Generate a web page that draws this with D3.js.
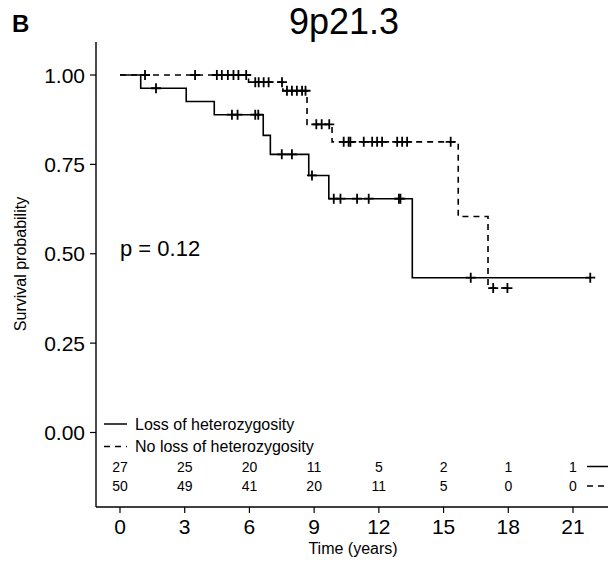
<!DOCTYPE html>
<html>
<head>
<meta charset="utf-8">
<script src="https://cdn.jsdelivr.net/npm/d3@7"></script>
<style>
  body { margin: 0; background: #fff; }
  svg { font-family: 'Liberation Sans', Arial, sans-serif; }
</style>
</head>
<body>
<svg id="chart" width="608" height="562"></svg>
<script>
// Kaplan-Meier curves
const lossSteps = [[0, 1.0], [0.96, 0.963], [3.07, 0.926], [4.37, 0.889], [6.64, 0.831], [6.97, 0.778], [8.75, 0.719], [9.68, 0.654], [13.55, 0.433]];
const lossEnd = 21.8;
const lossCensor = [1.67, 5.19, 5.45, 6.27, 6.41, 7.5, 7.97, 8.9, 9.91, 10.22, 10.99, 11.53, 12.93, 13.0, 16.26, 21.8];

const noLossSteps = [[0, 1.0], [5.96, 0.98], [7.55, 0.956], [8.67, 0.862], [9.83, 0.813], [15.68, 0.604], [17.06, 0.404]];
const noLossEnd = 18.0;
const noLossCensor = [1.16, 3.48, 4.49, 4.72, 5.0, 5.26, 5.49, 5.85, 6.27, 6.43, 6.66, 6.89, 7.51, 7.74, 7.97, 8.2, 8.44, 8.6,
  9.1, 9.35, 9.7, 10.37, 10.6, 10.68, 11.3, 11.69, 11.92, 12.15, 12.85, 13.08, 13.31, 15.33, 17.3, 17.96];

const xTicks = [0, 3, 6, 9, 12, 15, 18, 21];
const yTicks = [0, 0.25, 0.5, 0.75, 1];
const riskLoss = [27, 25, 20, 11, 5, 2, 1, 1];
const riskNoLoss = [50, 49, 41, 20, 11, 5, 0, 0];
const groups = ['Loss of heterozygosity', 'No loss of heterozygosity'];
const pValue = 'p = 0.12';

const svg = d3.select('#chart');
const x = d3.scaleLinear().domain([0, 21]).range([120, 573]);
const y = d3.scaleLinear().domain([0, 1]).range([432.5, 75]);

const axisLeft = 96;
const axisBottom = 507;
const axisTop = 42;

// step value lookup for censor marks
const survAt = (steps, t)=>{
  let s = steps[0][1];
  steps.forEach((d)=>{
    if (d[0] <= t) s = d[1];
  });
  return s;
};

const line = d3.line()
    .x((d)=>x(d[0]))
    .y((d)=>y(d[1]))
    .curve(d3.curveStepAfter);

const series = [
  {steps: lossSteps, end: lossEnd, censor: lossCensor, dash: null},
  {steps: noLossSteps, end: noLossEnd, censor: noLossCensor, dash: '6,5'},
];

// draw dashed first so solid sits on top at the shared start
series.slice().reverse().forEach((sr)=>{
  const pts = sr.steps.concat([[sr.end, sr.steps[sr.steps.length-1][1]]]);
  svg.append('path')
      .attr('d', line(pts))
      .style('fill', 'none')
      .style('stroke', '#000')
      .style('stroke-width', 1.6)
      .style('stroke-dasharray', sr.dash);

  svg.append('g').selectAll('path')
      .data(sr.censor)
      .enter().append('path')
      .attr('transform', (t)=>`translate(${x(t)},${y(survAt(sr.steps, t))})`)
      .attr('d', 'M-5,0H5M0,-5V5')
      .style('stroke', '#000')
      .style('stroke-width', 1.8);
});

// axes
svg.append('line')
    .attr('x1', axisLeft).attr('x2', axisLeft)
    .attr('y1', axisTop).attr('y2', axisBottom)
    .style('stroke', '#000').style('stroke-width', 1.4);
svg.append('line')
    .attr('x1', axisLeft).attr('x2', 608)
    .attr('y1', axisBottom).attr('y2', axisBottom)
    .style('stroke', '#000').style('stroke-width', 1.4);

const yt = svg.append('g').selectAll('g').data(yTicks).enter().append('g')
    .attr('transform', (d)=>`translate(${axisLeft},${y(d)})`);
yt.append('line').attr('x1', -6).attr('x2', 0).style('stroke', '#000').style('stroke-width', 1.2);
yt.append('text')
    .attr('x', -11).attr('dy', '0.36em')
    .attr('text-anchor', 'end')
    .style('font-size', '21px')
    .text((d)=>d3.format('.2f')(d));

const xt = svg.append('g').selectAll('g').data(xTicks).enter().append('g')
    .attr('transform', (d)=>`translate(${x(d)},${axisBottom})`);
xt.append('line').attr('y1', 0).attr('y2', 6).style('stroke', '#000').style('stroke-width', 1.2);
xt.append('text')
    .attr('y', 19).attr('dy', '0.36em')
    .attr('text-anchor', 'middle')
    .style('font-size', '21px')
    .text((d)=>d);

// number at risk rows
[riskLoss, riskNoLoss].forEach((row, ri)=>{
  const ry = ri ? 486 : 466.5;
  svg.append('g').selectAll('text').data(row).enter().append('text')
      .attr('x', (d, i)=>x(xTicks[i]))
      .attr('y', ry).attr('dy', '0.36em')
      .attr('text-anchor', 'middle')
      .style('font-size', '14px')
      .text((d)=>d);
  svg.append('line')
      .attr('x1', 587).attr('x2', 612)
      .attr('y1', ry).attr('y2', ry)
      .style('stroke', '#000').style('stroke-width', 1.5)
      .style('stroke-dasharray', ri ? '6,5' : null);
});

// legend
groups.forEach((g, gi)=>{
  const ly = gi ? 446.5 : 424;
  svg.append('line')
      .attr('x1', 104).attr('x2', 127)
      .attr('y1', ly).attr('y2', ly)
      .style('stroke', '#000').style('stroke-width', 1.5)
      .style('stroke-dasharray', gi ? '6,5' : null);
  svg.append('text')
      .attr('x', 135).attr('y', ly).attr('dy', '0.36em')
      .style('font-size', '16px')
      .text(g);
});

// p value
svg.append('text')
    .attr('x', 120).attr('y', y(0.5) - 6).attr('dy', '0.36em')
    .style('font-size', '22px')
    .text(pValue);

// titles
svg.append('text')
    .attr('x', 344).attr('y', 34)
    .attr('text-anchor', 'middle')
    .style('font-size', '36px')
    .text('9p21.3');
svg.append('text')
    .attr('x', 12).attr('y', 32)
    .style('font-size', '24px')
    .style('font-weight', 'bold')
    .text('B');
svg.append('text')
    .attr('x', 353).attr('y', 548).attr('dy', '0.36em')
    .attr('text-anchor', 'middle')
    .style('font-size', '16px')
    .text('Time (years)');
svg.append('text')
    .attr('transform', `translate(20,264) rotate(-90)`)
    .attr('text-anchor', 'middle')
    .attr('dy', '0.36em')
    .style('font-size', '16px')
    .text('Survival probability');
</script>
</body>
</html>
